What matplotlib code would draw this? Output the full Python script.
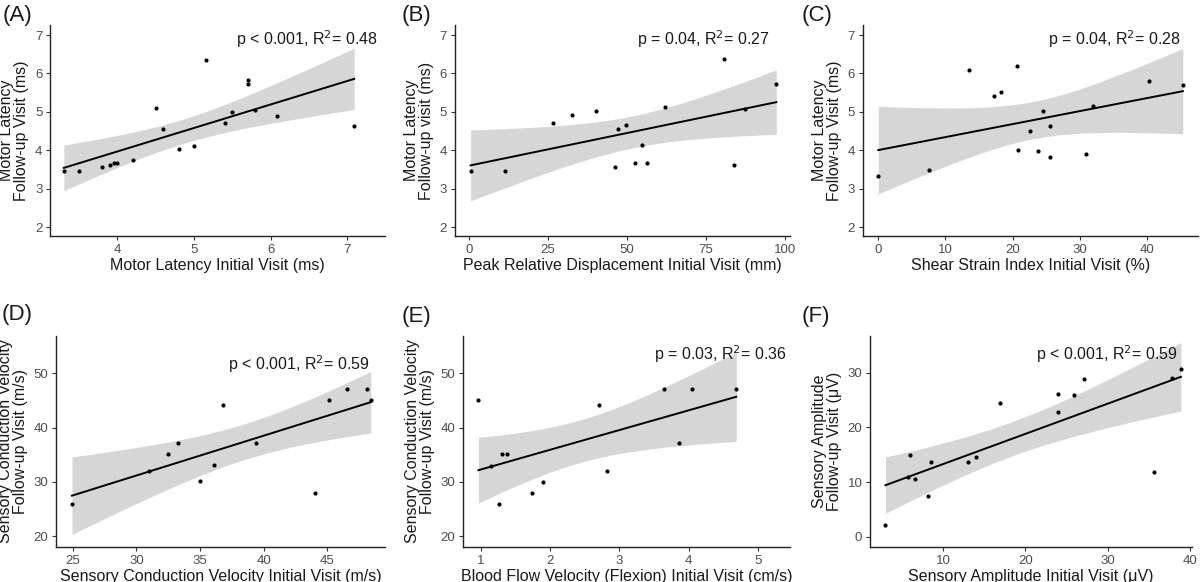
import matplotlib
matplotlib.use("Agg")
import matplotlib.pyplot as plt
import numpy as np

plt.rcParams["font.family"] = ["Liberation Sans", "DejaVu Sans"]

BAND = "#D6D6D6"
TICK_GREY = "#4D4D4D"

# (A) motor latency initial vs follow-up
a_x = [3.3, 3.5, 3.8, 3.9, 3.95, 4.0, 4.2, 4.5, 4.6, 4.8, 5.0, 5.15, 5.4, 5.5, 5.7, 5.7, 5.8, 6.08, 7.09]
a_y = [3.45, 3.45, 3.56, 3.62, 3.67, 3.66, 3.76, 5.11, 4.55, 4.03, 4.12, 6.36, 4.7, 5.0, 5.84, 5.72, 5.06, 4.9, 4.64]

# (B) peak relative displacement vs motor latency follow-up
b_x = [0.6, 11.5, 26.6, 32.5, 40.1, 46.2, 47.2, 49.7, 52.7, 54.9, 56.3, 62.1, 80.7, 83.7, 87.4, 97.2]
b_y = [3.46, 3.46, 4.71, 4.91, 5.02, 3.57, 4.55, 4.65, 3.66, 4.13, 3.66, 5.12, 6.37, 3.62, 5.08, 5.72]

# (C) shear strain index vs motor latency follow-up
c_x = [0.0, 7.6, 13.5, 17.2, 18.2, 20.6, 20.8, 22.6, 23.8, 24.5, 25.5, 25.6, 30.9, 31.9, 40.2, 45.3]
c_y = [3.32, 3.50, 6.10, 5.41, 5.52, 6.20, 4.00, 4.50, 3.97, 5.02, 3.82, 4.62, 3.91, 5.16, 5.80, 5.70]

# (D) sensory conduction velocity initial vs follow-up
d_x = [24.95, 31.0, 32.5, 33.3, 35.0, 36.1, 36.8, 39.4, 44.0, 45.1, 46.5, 48.1, 48.4]
d_y = [26.0, 32.1, 35.1, 37.1, 30.1, 33.1, 44.1, 37.1, 28.0, 45.1, 47.1, 47.1, 45.1]

# (E) blood flow velocity (flexion) vs sensory conduction velocity follow-up
e_x = [0.96, 1.14, 1.30, 1.37, 1.26, 1.73, 1.89, 2.70, 2.82, 3.65, 3.86, 4.05, 4.69]
e_y = [45.1, 33.0, 35.1, 35.1, 26.0, 28.0, 30.0, 44.1, 32.1, 47.1, 37.1, 47.1, 47.1]

# (F) sensory amplitude initial vs follow-up
f_x = [2.98, 5.7, 6.0, 6.6, 8.2, 8.5, 13.0, 14.0, 16.9, 23.9, 24.0, 25.9, 27.1, 35.6, 37.8, 38.9]
f_y = [2.1, 11.0, 15.0, 10.5, 7.5, 13.7, 13.7, 14.6, 24.4, 22.8, 26.1, 25.9, 28.8, 11.8, 29.1, 30.6]

PANELS = [
    dict(tag="(A)", x=a_x, y=a_y, xlabel="Motor Latency Initial Visit (ms)",
         ylabel="Motor Latency\nFollow-up Visit (ms)", stat="p < 0.001, R$^{2}$= 0.48",
         xlim=(3.12, 7.49), ylim=(1.77, 7.26), xticks=[4, 5, 6, 7], yticks=[2, 3, 4, 5, 6, 7]),
    dict(tag="(B)", x=b_x, y=b_y, xlabel="Peak Relative Displacement Initial Visit (mm)",
         ylabel="Motor Latency\nFollow-up visit (ms)", stat="p = 0.04, R$^{2}$= 0.27",
         xlim=(-4.4, 101.4), ylim=(1.77, 7.26), xticks=[0, 25, 50, 75, 100], yticks=[2, 3, 4, 5, 6, 7]),
    dict(tag="(C)", x=c_x, y=c_y, xlabel="Shear Strain Index Initial Visit (%)",
         ylabel="Motor Latency\nFollow-up Visit (ms)", stat="p = 0.04, R$^{2}$= 0.28",
         xlim=(-2.3, 47.5), ylim=(1.77, 7.26), xticks=[0, 10, 20, 30, 40], yticks=[2, 3, 4, 5, 6, 7]),
    dict(tag="(D)", x=d_x, y=d_y, xlabel="Sensory Conduction Velocity Initial Visit (m/s)",
         ylabel="Sensory Conduction Velocity\nFollow-up Visit (m/s)", stat="p < 0.001, R$^{2}$= 0.59",
         xlim=(23.7, 49.5), ylim=(18.0, 56.9), xticks=[25, 30, 35, 40, 45], yticks=[20, 30, 40, 50]),
    dict(tag="(E)", x=e_x, y=e_y, xlabel="Blood Flow Velocity (Flexion) Initial Visit (cm/s)",
         ylabel="Sensory Conduction Velocity\nFollow-up Visit (m/s)", stat="p = 0.03, R$^{2}$= 0.36",
         xlim=(0.74, 5.47), ylim=(18.0, 56.9), xticks=[1, 2, 3, 4, 5], yticks=[20, 30, 40, 50]),
    dict(tag="(F)", x=f_x, y=f_y, xlabel="Sensory Amplitude Initial Visit (\u03bcV)",
         ylabel="Sensory Amplitude\nFollow-up Visit (\u03bcV)", stat="p < 0.001, R$^{2}$= 0.59",
         xlim=(1.1, 40.2), ylim=(-1.84, 36.7), xticks=[10, 20, 30, 40], yticks=[0, 10, 20, 30]),
]

# axes boxes in figure fractions: left, bottom, width, height
BOXES = [
    (0.0417, 0.5945, 0.279, 0.3625),
    (0.379, 0.5945, 0.279, 0.3625),
    (0.719, 0.5945, 0.279, 0.3625),
    (0.0467, 0.0601, 0.274, 0.3625),
    (0.386, 0.0601, 0.2725, 0.3625),
    (0.725, 0.0601, 0.268, 0.3625),
]
STAT_POS = [(0.978, 0.931), (0.94, 0.931), (0.951, 0.931),
            (0.954, 0.869), (0.99, 0.913), (0.954, 0.916)]
TAG_POS = [(0.0025, 0.974), (0.335, 0.974), (0.668, 0.974),
           (0.0017, 0.460), (0.335, 0.457), (0.668, 0.457)]


def t975(df):
    # Cornish-Fisher approximation of the 97.5% t quantile
    z = 1.959964
    return z + (z**3 + z) / (4 * df) + (5 * z**5 + 16 * z**3 + 3 * z) / (96 * df**2)


def lm_band(x, y, n_grid=80):
    x = np.asarray(x, float)
    y = np.asarray(y, float)
    n = len(x)
    slope, icpt = np.polyfit(x, y, 1)
    resid = y - (icpt + slope * x)
    s = np.sqrt(np.sum(resid**2) / (n - 2))
    sxx = np.sum((x - x.mean())**2)
    xs = np.linspace(x.min(), x.max(), n_grid)
    fit = icpt + slope * xs
    se = s * np.sqrt(1.0 / n + (xs - x.mean())**2 / sxx)
    half = t975(n - 2) * se
    return xs, fit, fit - half, fit + half


fig = plt.figure(figsize=(12, 5.82), dpi=100)

for p, box, spos, tpos in zip(PANELS, BOXES, STAT_POS, TAG_POS):
    ax = fig.add_axes(box)
    xs, fit, lo, hi = lm_band(p["x"], p["y"])
    ax.fill_between(xs, lo, hi, color=BAND, linewidth=0, zorder=1)
    ax.plot(xs, fit, color="black", lw=1.4, zorder=3)
    ax.scatter(p["x"], p["y"], s=9, color="black", linewidths=0, zorder=4)

    ax.set_xlim(*p["xlim"])
    ax.set_ylim(*p["ylim"])
    ax.set_xticks(p["xticks"])
    ax.set_yticks(p["yticks"])
    for side in ("top", "right"):
        ax.spines[side].set_visible(False)
    for side in ("left", "bottom"):
        ax.spines[side].set_linewidth(1.0)
        ax.spines[side].set_color("#222222")
    ax.tick_params(axis="both", length=3, width=0.8, color="#333333",
                   labelcolor=TICK_GREY, labelsize=9.5, pad=2.5)
    ax.set_xlabel(p["xlabel"], fontsize=11.5, color="#1a1a1a", labelpad=1.5)
    ax.set_ylabel(p["ylabel"], fontsize=11.5, color="#1a1a1a", labelpad=4, linespacing=1.0)

    ax.text(spos[0], spos[1], p["stat"], transform=ax.transAxes, ha="right", va="center",
            fontsize=11.5, color="#1a1a1a")
    fig.text(tpos[0], tpos[1], p["tag"], ha="left", va="center", fontsize=16, color="#1a1a1a")

fig.savefig("out.png", dpi=100)
plt.close(fig)
